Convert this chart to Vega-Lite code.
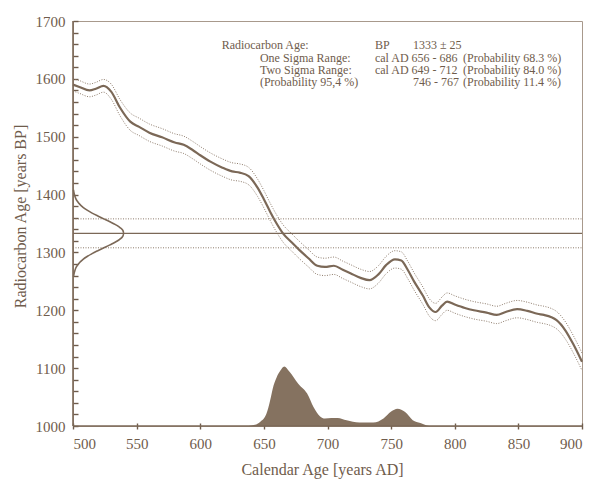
{
  "$schema": "https://vega.github.io/schema/vega-lite/v6.json",
  "width": 509,
  "height": 405,
  "autosize": "none",
  "padding": {"left": 73, "top": 21, "right": 11, "bottom": 53},
  "background": "white",
  "config": {
    "view": {"stroke": "#a8998c", "strokeWidth": 1},
    "axis": {
      "domainColor": "#7b6857",
      "domainWidth": 1.6,
      "ticks": true,
      "tickColor": "#6f5c4c",
      "tickWidth": 1.4,
      "tickOpacity": 1,
      "labelFont": "Liberation Serif",
      "labelFontSize": 15,
      "labelColor": "#6f5c4c",
      "titleFont": "Liberation Serif",
      "titleFontSize": 16,
      "titleFontWeight": "normal",
      "titleColor": "#6f5c4c",
      "grid": false,
      "format": "d"
    },
    "text": {"font": "Liberation Serif", "fontSize": 12, "color": "#6f5c4c", "align": "left", "baseline": "alphabetic"}
  },
  "datasets": {
    "curve": [
      {"cal": 500, "bp": 1590, "hi": 1600, "lo": 1579},
      {"cal": 505, "bp": 1586, "hi": 1597, "lo": 1575},
      {"cal": 513, "bp": 1580, "hi": 1591, "lo": 1569},
      {"cal": 518, "bp": 1583, "hi": 1594, "lo": 1572},
      {"cal": 524, "bp": 1588, "hi": 1599, "lo": 1577},
      {"cal": 530, "bp": 1578, "hi": 1591, "lo": 1565},
      {"cal": 537, "bp": 1550, "hi": 1564, "lo": 1536},
      {"cal": 545, "bp": 1526, "hi": 1541, "lo": 1511},
      {"cal": 552, "bp": 1517, "hi": 1532, "lo": 1502},
      {"cal": 560, "bp": 1507, "hi": 1522, "lo": 1492},
      {"cal": 570, "bp": 1499, "hi": 1514, "lo": 1484},
      {"cal": 580, "bp": 1490, "hi": 1505, "lo": 1475},
      {"cal": 587, "bp": 1486, "hi": 1501, "lo": 1471},
      {"cal": 594, "bp": 1477, "hi": 1492, "lo": 1462},
      {"cal": 600, "bp": 1468, "hi": 1483, "lo": 1453},
      {"cal": 608, "bp": 1457, "hi": 1472, "lo": 1442},
      {"cal": 617, "bp": 1447, "hi": 1462, "lo": 1432},
      {"cal": 625, "bp": 1440, "hi": 1455, "lo": 1425},
      {"cal": 631, "bp": 1438, "hi": 1453, "lo": 1423},
      {"cal": 638, "bp": 1432, "hi": 1447, "lo": 1417},
      {"cal": 645, "bp": 1412, "hi": 1427, "lo": 1397},
      {"cal": 650, "bp": 1392, "hi": 1407, "lo": 1377},
      {"cal": 655, "bp": 1370, "hi": 1385, "lo": 1355},
      {"cal": 660, "bp": 1350, "hi": 1365, "lo": 1335},
      {"cal": 665, "bp": 1333, "hi": 1348, "lo": 1318},
      {"cal": 672, "bp": 1317, "hi": 1332, "lo": 1302},
      {"cal": 678, "bp": 1304, "hi": 1319, "lo": 1289},
      {"cal": 685, "bp": 1290, "hi": 1305, "lo": 1275},
      {"cal": 692, "bp": 1277, "hi": 1292, "lo": 1262},
      {"cal": 698, "bp": 1275, "hi": 1290, "lo": 1260},
      {"cal": 705, "bp": 1277, "hi": 1292, "lo": 1262},
      {"cal": 712, "bp": 1270, "hi": 1285, "lo": 1255},
      {"cal": 718, "bp": 1264, "hi": 1279, "lo": 1249},
      {"cal": 726, "bp": 1256, "hi": 1271, "lo": 1241},
      {"cal": 733, "bp": 1252, "hi": 1267, "lo": 1237},
      {"cal": 740, "bp": 1262, "hi": 1277, "lo": 1247},
      {"cal": 746, "bp": 1278, "hi": 1293, "lo": 1263},
      {"cal": 753, "bp": 1288, "hi": 1303, "lo": 1273},
      {"cal": 758, "bp": 1286, "hi": 1301, "lo": 1271},
      {"cal": 763, "bp": 1270, "hi": 1285, "lo": 1255},
      {"cal": 768, "bp": 1250, "hi": 1265, "lo": 1235},
      {"cal": 775, "bp": 1225, "hi": 1240, "lo": 1210},
      {"cal": 780, "bp": 1205, "hi": 1220, "lo": 1190},
      {"cal": 785, "bp": 1197, "hi": 1212, "lo": 1182},
      {"cal": 790, "bp": 1208, "hi": 1223, "lo": 1193},
      {"cal": 794, "bp": 1215, "hi": 1230, "lo": 1200},
      {"cal": 800, "bp": 1210, "hi": 1225, "lo": 1195},
      {"cal": 808, "bp": 1204, "hi": 1219, "lo": 1189},
      {"cal": 815, "bp": 1200, "hi": 1215, "lo": 1185},
      {"cal": 825, "bp": 1196, "hi": 1211, "lo": 1181},
      {"cal": 833, "bp": 1192, "hi": 1207, "lo": 1177},
      {"cal": 840, "bp": 1197, "hi": 1212, "lo": 1182},
      {"cal": 849, "bp": 1202, "hi": 1217, "lo": 1187},
      {"cal": 857, "bp": 1199, "hi": 1214, "lo": 1184},
      {"cal": 865, "bp": 1194, "hi": 1209, "lo": 1179},
      {"cal": 870, "bp": 1192, "hi": 1207, "lo": 1177},
      {"cal": 876, "bp": 1188, "hi": 1203, "lo": 1173},
      {"cal": 880, "bp": 1183, "hi": 1198, "lo": 1168},
      {"cal": 887, "bp": 1165, "hi": 1180, "lo": 1150},
      {"cal": 893, "bp": 1142, "hi": 1157, "lo": 1127},
      {"cal": 900, "bp": 1111, "hi": 1126, "lo": 1096}
    ],
    "gauss": [
      {"bp": 1258, "cal": 500.4},
      {"bp": 1263, "cal": 500.8},
      {"bp": 1268, "cal": 501.4},
      {"bp": 1273, "cal": 502.2},
      {"bp": 1278, "cal": 503.6},
      {"bp": 1283, "cal": 505.4},
      {"bp": 1288, "cal": 507.9},
      {"bp": 1293, "cal": 511.1},
      {"bp": 1298, "cal": 515.0},
      {"bp": 1303, "cal": 519.5},
      {"bp": 1308, "cal": 524.3},
      {"bp": 1313, "cal": 529.0},
      {"bp": 1318, "cal": 533.4},
      {"bp": 1323, "cal": 536.9},
      {"bp": 1328, "cal": 539.2},
      {"bp": 1333, "cal": 540.0},
      {"bp": 1338, "cal": 539.2},
      {"bp": 1343, "cal": 536.9},
      {"bp": 1348, "cal": 533.4},
      {"bp": 1353, "cal": 529.0},
      {"bp": 1358, "cal": 524.3},
      {"bp": 1363, "cal": 519.5},
      {"bp": 1368, "cal": 515.0},
      {"bp": 1373, "cal": 511.1},
      {"bp": 1378, "cal": 507.9},
      {"bp": 1383, "cal": 505.4},
      {"bp": 1388, "cal": 503.6},
      {"bp": 1393, "cal": 502.2},
      {"bp": 1398, "cal": 501.4},
      {"bp": 1403, "cal": 500.8},
      {"bp": 1408, "cal": 500.4}
    ],
    "prob": [
      {"cal": 638, "p": 1000},
      {"cal": 643, "p": 1002},
      {"cal": 647, "p": 1007},
      {"cal": 652, "p": 1021},
      {"cal": 655, "p": 1045},
      {"cal": 657, "p": 1065},
      {"cal": 660, "p": 1084},
      {"cal": 663, "p": 1096},
      {"cal": 666, "p": 1103},
      {"cal": 670, "p": 1094},
      {"cal": 677, "p": 1073},
      {"cal": 684, "p": 1056},
      {"cal": 689, "p": 1033},
      {"cal": 694, "p": 1017},
      {"cal": 698, "p": 1013},
      {"cal": 703, "p": 1014},
      {"cal": 708, "p": 1014},
      {"cal": 715, "p": 1010},
      {"cal": 725, "p": 1006},
      {"cal": 736, "p": 1006},
      {"cal": 744, "p": 1013},
      {"cal": 750, "p": 1025},
      {"cal": 755, "p": 1030},
      {"cal": 761, "p": 1024},
      {"cal": 767, "p": 1010},
      {"cal": 773, "p": 1005},
      {"cal": 778, "p": 1001},
      {"cal": 782, "p": 1000}
    ]
  },
  "encoding": {
    "x": {
      "type": "quantitative",
      "scale": {"domain": [500, 900], "nice": false, "zero": false},
      "axis": {
        "title": "Calendar Age [years AD]",
        "values": [500, 550, 600, 650, 700, 750, 800, 850, 900],
        "offset": -3,
        "domain": false,
        "tickSize": 6,
        "labelPadding": 7,
        "titleX": 249,
        "titleY": 46,
        "titleBaseline": "middle",
        "titleAnchor": "middle"
      }
    },
    "y": {
      "type": "quantitative",
      "scale": {"domain": [1000, 1700], "nice": false, "zero": false},
      "axis": {
        "title": "Radiocarbon Age [years BP]",
        "values": [1000, 1020, 1040, 1060, 1080, 1100, 1120, 1140, 1160, 1180, 1200, 1220, 1240, 1260, 1280, 1300, 1320, 1340, 1360, 1380, 1400, 1420, 1440, 1460, 1480, 1500, 1520, 1540, 1560, 1580, 1600, 1620, 1640, 1660, 1680, 1700],
        "labelExpr": "datum.value % 100 === 0 ? datum.label : ''",
        "offset": -5,
        "domain": false,
        "tickSize": 5,
        "labelPadding": 8,
        "titleX": -58,
        "titleY": 195,
        "titleBaseline": "middle",
        "titleAnchor": "middle"
      }
    }
  },
  "layer": [
    {
      "data": {"name": "prob"},
      "mark": {"type": "area", "interpolate": "monotone", "color": "#857260"},
      "encoding": {
        "x": {"field": "cal", "type": "quantitative"},
        "y": {"field": "p", "type": "quantitative"},
        "y2": {"datum": 1000}
      }
    },
    {
      "data": {"name": "curve"},
      "mark": {"type": "line", "interpolate": "monotone", "color": "#8e7c6c", "strokeWidth": 1, "strokeDash": [1, 1.5]},
      "encoding": {
        "x": {"field": "cal", "type": "quantitative"},
        "y": {"field": "hi", "type": "quantitative"}
      }
    },
    {
      "data": {"name": "curve"},
      "mark": {"type": "line", "interpolate": "monotone", "color": "#8e7c6c", "strokeWidth": 1, "strokeDash": [1, 1.5]},
      "encoding": {
        "x": {"field": "cal", "type": "quantitative"},
        "y": {"field": "lo", "type": "quantitative"}
      }
    },
    {
      "data": {"name": "curve"},
      "mark": {"type": "line", "interpolate": "monotone", "color": "#7b6857", "strokeWidth": 2.2},
      "encoding": {
        "x": {"field": "cal", "type": "quantitative"},
        "y": {"field": "bp", "type": "quantitative"}
      }
    },
    {
      "data": {"values": [{}]},
      "mark": {"type": "rule", "color": "#8e7c6c", "strokeWidth": 1, "strokeDash": [1, 1.5]},
      "encoding": {"x": {"datum": 500}, "x2": {"datum": 900}, "y": {"datum": 1358}}
    },
    {
      "data": {"values": [{}]},
      "mark": {"type": "rule", "color": "#8e7c6c", "strokeWidth": 1, "strokeDash": [1, 1.5]},
      "encoding": {"x": {"datum": 500}, "x2": {"datum": 900}, "y": {"datum": 1308}}
    },
    {
      "data": {"values": [{}]},
      "mark": {"type": "rule", "color": "#7b6857", "strokeWidth": 1.4},
      "encoding": {"x": {"datum": 500}, "x2": {"datum": 900}, "y": {"datum": 1333}}
    },
    {
      "data": {"values": [{}]},
      "mark": {"type": "rule", "color": "#7b6857", "strokeWidth": 1.6},
      "encoding": {"x": {"datum": 500}, "y": {"datum": 1000}, "y2": {"datum": 1700}}
    },
    {
      "data": {"values": [{}]},
      "mark": {"type": "rule", "color": "#7b6857", "strokeWidth": 1.6},
      "encoding": {"x": {"datum": 500}, "x2": {"datum": 900}, "y": {"datum": 1000}}
    },
    {
      "data": {"name": "gauss"},
      "mark": {"type": "line", "interpolate": "monotone", "color": "#7b6857", "strokeWidth": 1.6},
      "encoding": {
        "x": {"field": "cal", "type": "quantitative"},
        "y": {"field": "bp", "type": "quantitative"},
        "order": {"field": "bp", "type": "quantitative"}
      }
    },
    {"data": {"values": [{}]}, "mark": "text", "encoding": {"x": {"datum": 616.8}, "y": {"datum": 1651.6}, "text": {"value": "Radiocarbon Age:"}}},
    {"data": {"values": [{}]}, "mark": "text", "encoding": {"x": {"datum": 646.9}, "y": {"datum": 1630.0}, "text": {"value": "One Sigma Range:"}}},
    {"data": {"values": [{}]}, "mark": "text", "encoding": {"x": {"datum": 646.9}, "y": {"datum": 1608.4}, "text": {"value": "Two Sigma Range:"}}},
    {"data": {"values": [{}]}, "mark": "text", "encoding": {"x": {"datum": 646.9}, "y": {"datum": 1586.8}, "text": {"value": "(Probability 95,4 %)"}}},
    {"data": {"values": [{}]}, "mark": "text", "encoding": {"x": {"datum": 737.3}, "y": {"datum": 1651.6}, "text": {"value": "BP"}}},
    {"data": {"values": [{}]}, "mark": "text", "encoding": {"x": {"datum": 767.2}, "y": {"datum": 1651.6}, "text": {"value": "1333 ± 25"}}},
    {"data": {"values": [{}]}, "mark": "text", "encoding": {"x": {"datum": 737.3}, "y": {"datum": 1630.0}, "text": {"value": "cal AD 656 - 686"}}},
    {"data": {"values": [{}]}, "mark": "text", "encoding": {"x": {"datum": 737.3}, "y": {"datum": 1608.4}, "text": {"value": "cal AD 649 - 712"}}},
    {"data": {"values": [{}]}, "mark": "text", "encoding": {"x": {"datum": 767.2}, "y": {"datum": 1586.8}, "text": {"value": "746 - 767"}}},
    {"data": {"values": [{}]}, "mark": "text", "encoding": {"x": {"datum": 806.5}, "y": {"datum": 1630.0}, "text": {"value": "(Probability 68.3 %)"}}},
    {"data": {"values": [{}]}, "mark": "text", "encoding": {"x": {"datum": 806.5}, "y": {"datum": 1608.4}, "text": {"value": "(Probability 84.0 %)"}}},
    {"data": {"values": [{}]}, "mark": "text", "encoding": {"x": {"datum": 806.5}, "y": {"datum": 1586.8}, "text": {"value": "(Probability 11.4 %)"}}}
  ]
}
